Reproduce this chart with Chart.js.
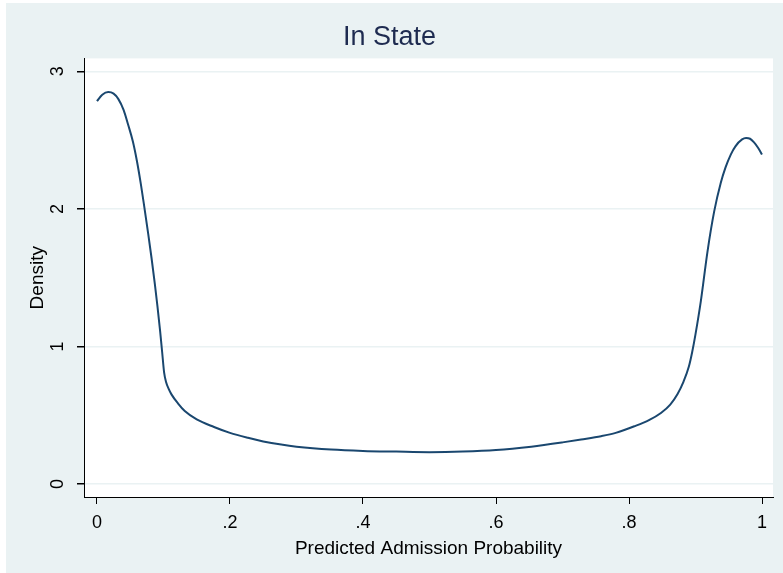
<!DOCTYPE html>
<html>
<head>
<meta charset="utf-8">
<script src="https://cdn.jsdelivr.net/npm/chart.js@4/dist/chart.umd.min.js"></script>
<style>
  html, body { margin: 0; padding: 0; background: #fff; }
  #wrap { width: 783px; height: 573px; }
</style>
</head>
<body>
<div id="wrap"><canvas id="chart"></canvas></div>
<script>
// kernel density of predicted admission probability
const xs = [0, 0.008, 0.017, 0.025, 0.032, 0.04, 0.047, 0.054, 0.06, 0.066, 0.071, 0.077, 0.082, 0.087,
  0.091, 0.095, 0.098, 0.101, 0.104, 0.108, 0.112, 0.122, 0.132, 0.15, 0.176, 0.2, 0.227, 0.25, 0.277,
  0.3, 0.352, 0.4, 0.45, 0.5, 0.55, 0.6, 0.653, 0.7, 0.728, 0.758, 0.78, 0.808, 0.83, 0.848, 0.862,
  0.873, 0.882, 0.89, 0.895, 0.9, 0.908, 0.918, 0.928, 0.938, 0.945, 0.953, 0.96, 0.97, 0.976, 0.982,
  0.988, 0.994, 1.0];
const ys = [2.783, 2.83, 2.849, 2.838, 2.80, 2.72, 2.61, 2.49, 2.35, 2.18, 2.02, 1.82, 1.645, 1.455,
  1.29, 1.11, 0.96, 0.81, 0.74, 0.69, 0.652, 0.585, 0.531, 0.47, 0.415, 0.372, 0.336, 0.31, 0.287,
  0.272, 0.251, 0.241, 0.236, 0.232, 0.236, 0.247, 0.272, 0.303, 0.324, 0.348, 0.372, 0.42, 0.465, 0.517, 0.578,
  0.655, 0.745, 0.854, 0.96, 1.09, 1.33, 1.69, 1.98, 2.19, 2.30, 2.395, 2.455, 2.505, 2.515, 2.51,
  2.484, 2.445, 2.395];

const xTicks = [0, 0.2, 0.4, 0.6, 0.8, 1];
const xTickLabels = ['0', '.2', '.4', '.6', '.8', '1'];
const yTicks = [0, 1, 2, 3];
const yTickLabels = ['0', '1', '2', '3'];

const FONT = "'Liberation Sans', Arial, sans-serif";
const BG = '#eaf2f3';

const points = xs.map((x, i) => ({ x: x, y: ys[i] }));

const backdrop = {
    id: 'backdrop',
    beforeDraw(chart) {
        const ctx = chart.ctx;
        const a = chart.chartArea;
        ctx.save();
        ctx.fillStyle = '#fff';
        ctx.fillRect(0, 0, chart.width, chart.height);
        ctx.fillStyle = BG;
        ctx.fillRect(6, 3, chart.width - 6, chart.height - 3);
        ctx.fillStyle = '#fff';
        ctx.fillRect(a.left, a.top, a.right - a.left, a.bottom - a.top);
        ctx.restore();
    }
};

// stata writes the y labels turned on their side
const yLabels = {
    id: 'yLabels',
    afterDraw(chart) {
        const ctx = chart.ctx;
        const y = chart.scales.y;
        ctx.save();
        ctx.fillStyle = '#000';
        ctx.font = '18px ' + FONT;
        ctx.textAlign = 'center';
        ctx.textBaseline = 'middle';
        yTicks.forEach((v, i) => {
            ctx.save();
            ctx.translate(58, y.getPixelForValue(v));
            ctx.rotate(-Math.PI / 2);
            ctx.fillText(yTickLabels[i], 0, 0);
            ctx.restore();
        });
        ctx.restore();
    }
};

new Chart(document.getElementById('chart'), {
    type: 'line',
    data: {
        datasets: [{
            data: points,
            borderColor: '#1a476f',
            borderWidth: 2,
            pointRadius: 0,
            fill: false,
            cubicInterpolationMode: 'monotone'
        }]
    },
    options: {
        responsive: true,
        maintainAspectRatio: false,
        animation: false,
        layout: { padding: { left: 6, right: 10, top: 3, bottom: 0 } },
        plugins: {
            legend: { display: false },
            tooltip: { enabled: false },
            title: {
                display: true,
                text: 'In State',
                color: '#1e2b50',
                font: { family: FONT, size: 27, weight: 'normal' },
                padding: { top: 18, bottom: 5 }
            }
        },
        scales: {
            x: {
                type: 'linear',
                min: -0.0195,
                max: 1.0165,
                afterBuildTicks: s => { s.ticks = xTicks.map(v => ({ value: v })); },
                afterFit: s => { s.height = 76; },
                ticks: {
                    color: '#000',
                    font: { family: FONT, size: 18 },
                    padding: 8,
                    maxRotation: 0,
                    callback: v => xTickLabels[xTicks.indexOf(v)]
                },
                grid: { drawOnChartArea: false, tickColor: '#000', tickLength: 7 },
                border: { color: '#000', width: 1 },
                title: {
                    display: true,
                    text: 'Predicted Admission Probability',
                    color: '#000',
                    font: { family: FONT, size: 19 },
                    padding: { top: 0, bottom: 13 }
                }
            },
            y: {
                type: 'linear',
                min: -0.094,
                max: 3.094,
                afterBuildTicks: s => { s.ticks = yTicks.map(v => ({ value: v })); },
                afterFit: s => { s.width = 78; },
                ticks: { display: false },
                grid: { color: BG, lineWidth: 1.5, tickColor: '#000', tickLength: 7 },
                border: { color: '#000', width: 1 },
                title: {
                    display: true,
                    text: 'Density',
                    color: '#000',
                    font: { family: FONT, size: 19 },
                    padding: { top: 20, bottom: 0 }
                }
            }
        }
    },
    plugins: [backdrop, yLabels]
});
</script>
</body>
</html>
